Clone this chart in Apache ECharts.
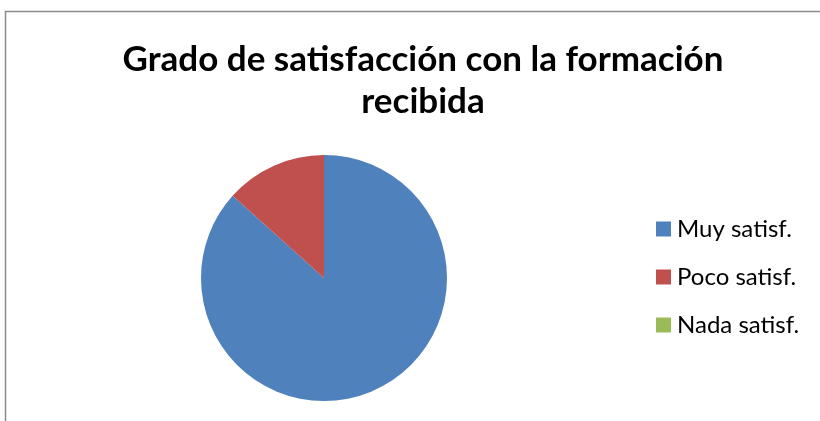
<!DOCTYPE html>
<html>
<head>
<meta charset="utf-8">
<script src="https://cdn.jsdelivr.net/npm/echarts@6/dist/echarts.min.js"></script>
<style>
html,body{margin:0;padding:0;background:#fff;}
#chart{width:820px;height:421px;}
</style>
</head>
<body>
<div id="chart"></div>
<script>
const titleText = 'Grado de satisfacción con la formación\nrecibida';
const categories = ['Muy satisf.', 'Poco satisf.', 'Nada satisf.'];
const values = [13, 2, 0];
const colors = ['#4F81BD', '#C0504D', '#9BBB59'];

const chart = echarts.init(document.getElementById('chart'), null, {renderer: 'canvas'});
chart.setOption({
  animation: false,
  backgroundColor: '#fff',
  color: colors,
  graphic: [{
    type: 'rect',
    shape: {x: 5.5, y: 11.5, width: 900, height: 500},
    style: {fill: 'none', stroke: '#8c8c8c', lineWidth: 1.5},
    silent: true
  }],
  title: {
    text: titleText,
    left: 418,
    textAlign: 'center',
    top: 34,
    textStyle: {fontFamily: 'Lato', fontWeight: 'bold', fontSize: 35, color: '#000', lineHeight: 42}
  },
  legend: {
    orient: 'vertical',
    left: 651,
    top: 212,
    padding: 5,
    itemWidth: 15,
    itemHeight: 15,
    itemGap: 24,
    icon: 'rect',
    textStyle: {fontFamily: 'Lato', fontSize: 24, lineHeight: 24, color: '#000', padding: [0, 0, 0, 1]},
    data: categories
  },
  series: [{
    type: 'pie',
    center: [324, 278],
    radius: 123,
    startAngle: 90,
    clockwise: true,
    label: {show: false},
    labelLine: {show: false},
    itemStyle: {borderWidth: 0},
    emphasis: {disabled: true},
    data: categories.map((c, i) => ({name: c, value: values[i]}))
  }]
});
</script>
</body>
</html>
